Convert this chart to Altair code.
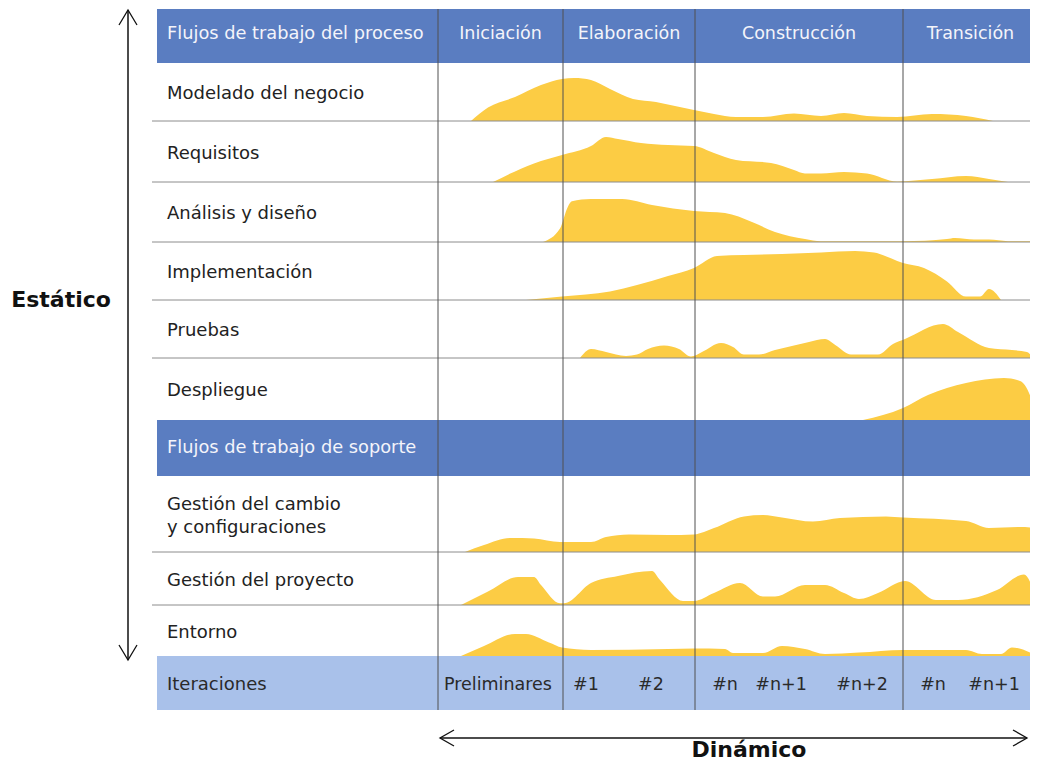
import altair as alt
import pandas as pd

# ---------------- data ----------------
# time axis: t = distance along the "Dinámico" axis
phases = ["Iniciación", "Elaboración", "Construcción", "Transición"]
phase_start = [0, 125, 257, 465]
phase_end = [125, 257, 465, 600]

iter_labels = ["Preliminares", "#1", "#2", "#n", "#n+1", "#n+2", "#n", "#n+1"]
iter_pos = [60, 148, 213, 287, 343, 424, 495, 556]

workflows = ["Modelado del negocio", "Requisitos", "Análisis y diseño",
             "Implementación", "Pruebas", "Despliegue",
             "Gestión del cambio\ny configuraciones", "Gestión del proyecto", "Entorno"]

# effort profiles (t, height) per workflow
mod_t = [33, 50, 77, 103, 124, 136, 153, 172, 195, 218, 237, 256, 276, 298, 325, 356, 383, 406, 429, 459, 494, 528, 555]
mod_h = [0, 13.5, 24, 36, 42, 43, 41, 32, 22, 19, 15, 11, 7, 4, 4, 7.5, 5, 8, 5, 4, 7, 5, 0]

req_t = [55, 96, 124, 153, 168, 180, 203, 230, 256, 276, 298, 333, 356, 367, 383, 406, 429, 459, 494, 528, 551, 570]
req_h = [0, 18.6, 27, 36, 45, 43, 39, 37, 36, 29, 22, 19, 12, 8.5, 8.5, 10, 8.5, 0.5, 3, 6, 3, 0]

ana_t = [105, 122, 130, 134, 153, 184, 214, 256, 287, 314, 337, 367, 383, 465, 509, 517, 536, 551, 570, 600]
ana_h = [0, 13.5, 35.6, 40.7, 43, 43, 37, 31, 29, 20, 10, 3, 0.8, 0.8, 3, 4, 2.4, 2.4, 0.8, 0.8]

imp_t = [88, 124, 172, 199, 230, 256, 279, 306, 344, 383, 417, 436, 465, 486, 509, 528, 542, 551, 563]
imp_h = [0, 3.4, 8.5, 15, 24, 32, 44, 45, 46, 47.5, 49, 47.5, 37, 32, 18.6, 3.4, 3.4, 11, 0]

pru_t = [142, 153, 168, 188, 199, 210, 226, 241, 253, 264, 283, 295, 306, 321, 337, 356, 371, 387, 398, 413, 440, 455, 467, 505, 520, 551, 574, 589, 595]
pru_h = [0, 9, 6, 2, 3.4, 9, 12.5, 9, 1.4, 6, 15, 11, 3.4, 3.4, 8, 12.5, 16, 19, 12.5, 3.4, 3.4, 14, 19, 34, 26, 10, 8, 6, 0]

des_t = [425, 465, 490, 528, 566, 582, 593, 599]
des_h = [0, 12, 25, 37, 42, 39, 22, 0]

cam_t = [27, 46, 73, 96, 122, 153, 168, 191, 230, 256, 276, 306, 325, 344, 375, 402, 448, 465, 528, 551, 582, 600]
cam_h = [0, 7, 14, 13.5, 10, 10, 15, 17.6, 17, 17.6, 24, 35.6, 37, 34.6, 30.5, 34, 35.6, 34.6, 31, 24, 25, 24]

pro_t = [23, 50, 80, 96, 103, 122, 126, 153, 180, 214, 222, 245, 256, 276, 302, 325, 337, 367, 387, 406, 421, 440, 467, 498, 520, 559, 586, 599]
pro_h = [0, 13.5, 28, 28, 20, 1.7, 1.7, 22, 29, 34, 25, 4, 4, 12, 22, 8.5, 8.5, 20, 20, 12, 6, 12, 24, 5, 5, 15, 30.5, 3.4]

ent_t = [23, 46, 77, 88, 111, 124, 153, 230, 256, 287, 295, 325, 344, 367, 387, 421, 465, 528, 544, 563, 574, 597]
ent_h = [0, 10, 22, 22, 13.5, 8.5, 6, 7, 7.5, 7, 3, 3, 10, 7, 2, 3.4, 6, 6, 2, 2, 8.5, 1]

profiles = [(mod_t, mod_h), (req_t, req_h), (ana_t, ana_h), (imp_t, imp_h), (pru_t, pru_h),
            (des_t, des_h), (cam_t, cam_h), (pro_t, pro_h), (ent_t, ent_h)]

# ---------------- layout ----------------
W, H = 1022, 755
X_DOM = [-430, -430 + W]
Y_DOM = [8, 8 + H]
row_top = [63, 121, 182, 242, 300, 358, 476, 552, 605]
row_bottom = [121, 182, 242, 300, 358, 420, 552, 605, 656]
LABEL_X = -271
BAR_X0 = -281
LINE_X0 = -286
T_END = 600
LINE_H = 23

HDR_BLUE = "#5A7DC1"
ITER_BLUE = "#A9C1EA"
YELLOW = "#FCCC44"
FONT = "DejaVu Sans"

xs = alt.Scale(domain=X_DOM, nice=False, zero=False)
ys = alt.Scale(domain=Y_DOM, nice=False, zero=False, reverse=True)


def X(f):
    return alt.X(f, type="quantitative", scale=xs, axis=None)


def Y(f):
    return alt.Y(f, type="quantitative", scale=ys, axis=None)


# hump areas
area_rows = []
for wf, (tt, hh), b in zip(workflows, profiles, row_bottom):
    for t, h in zip(tt, hh):
        area_rows.append({"wf": wf, "t": t, "ytop": b - h, "ybase": b})
area_df = pd.DataFrame(area_rows)

bars_df = pd.DataFrame({
    "x0": [BAR_X0] * 3, "x1": [T_END] * 3,
    "y0": [9, 420, 656], "y1": [63, 476, 710],
    "kind": ["h", "h", "i"],
})

seps_df = pd.DataFrame({"y": [121, 182, 242, 300, 358, 552, 605], "x0": LINE_X0, "x1": T_END})
vlines_df = pd.DataFrame({"t": phase_start, "y0": 9, "y1": 710})

label_y = []
for wf, a, b in zip(workflows, row_top, row_bottom):
    n = wf.count("\n")
    label_y.append((a + b) / 2 + 2 - n * LINE_H / 2)
labels_df = pd.DataFrame({"label": workflows, "t": LABEL_X, "y": label_y})
phase_df = pd.DataFrame({"label": phases, "t": [(a + b) / 2 for a, b in zip(phase_start, phase_end)], "y": 34})
iter_df = pd.DataFrame({"label": iter_labels, "t": iter_pos, "y": 685})
hdr_df = pd.DataFrame({"label": ["Flujos de trabajo del proceso", "Flujos de trabajo de soporte"],
                       "t": LABEL_X, "y": [34, 448]})
iterhdr_df = pd.DataFrame({"label": ["Iteraciones"], "t": [LABEL_X], "y": [685]})

# arrows
arrow_shafts = pd.DataFrame({"x0": [-310, 2], "x1": [-310, 589], "y0": [10, 738], "y1": [660, 738]})
heads = []
for name, pts in {
    "up": [(-319, 25), (-310, 10), (-301, 25)],
    "down": [(-319, 645), (-310, 660), (-301, 645)],
    "left": [(16, 730), (2, 738), (16, 746)],
    "right": [(575, 730), (589, 738), (575, 746)],
}.items():
    for i, (x, y) in enumerate(pts):
        heads.append({"a": name, "i": i, "t": x, "y": y})
heads_df = pd.DataFrame(heads)
axis_text = pd.DataFrame({"label": ["Estático", "Dinámico"], "t": [-377, 311], "y": [300, 750]})

# ---------------- layers ----------------
bars = alt.Chart(bars_df).mark_rect().encode(
    x=X("x0"), x2="x1", y=Y("y0"), y2="y1",
    color=alt.Color("kind:N", scale=alt.Scale(domain=["h", "i"], range=[HDR_BLUE, ITER_BLUE]), legend=None),
)

areas = alt.Chart(area_df).mark_area(color=YELLOW, interpolate="monotone", orient="vertical").encode(
    x=X("t"), y=Y("ytop"), y2="ybase", detail="wf:N"
)

seps = alt.Chart(seps_df).mark_rule(color="#8C8C8C", strokeWidth=1).encode(
    x=X("x0"), x2="x1", y=Y("y")
)
vlines = alt.Chart(vlines_df).mark_rule(color="#505050", strokeWidth=1).encode(
    x=X("t"), y=Y("y0"), y2="y1"
)

row_labels = alt.Chart(labels_df).mark_text(
    align="left", baseline="middle", font=FONT, fontSize=18, color="#222222", lineBreak="\n", lineHeight=LINE_H
).encode(x=X("t"), y=Y("y"), text="label:N")

hdr_text = alt.Chart(hdr_df).mark_text(
    align="left", baseline="middle", font=FONT, fontSize=17.8, color="#F4F4FA"
).encode(x=X("t"), y=Y("y"), text="label:N")

phase_text = alt.Chart(phase_df).mark_text(
    align="center", baseline="middle", font=FONT, fontSize=17.5, color="#F4F4FA"
).encode(x=X("t"), y=Y("y"), text="label:N")

iterhdr_text = alt.Chart(iterhdr_df).mark_text(
    align="left", baseline="middle", font=FONT, fontSize=18, color="#2A2A2A"
).encode(x=X("t"), y=Y("y"), text="label:N")

iter_text = alt.Chart(iter_df).mark_text(
    align="center", baseline="middle", font=FONT, fontSize=17.5, color="#2A2A2A"
).encode(x=X("t"), y=Y("y"), text="label:N")

shafts = alt.Chart(arrow_shafts).mark_rule(color="#111111", strokeWidth=1.5).encode(
    x=X("x0"), x2="x1", y=Y("y0"), y2="y1"
)
arrow_heads = alt.Chart(heads_df).mark_line(color="#111111", strokeWidth=1.3).encode(
    x=X("t"), y=Y("y"), detail="a:N", order="i:Q"
)
axis_labels = alt.Chart(axis_text).mark_text(
    align="center", baseline="middle", font=FONT, fontSize=22, fontWeight="bold", color="#111111"
).encode(x=X("t"), y=Y("y"), text="label:N")

chart = alt.layer(
    bars, areas, seps, vlines, row_labels, hdr_text, phase_text, iterhdr_text, iter_text,
    shafts, arrow_heads, axis_labels
).properties(
    width=W, height=H, autosize=alt.AutoSizeParams(type="none"), padding=0, background="white"
).configure_view(stroke=None)

chart.save("out.html", embed_options={"renderer": "svg", "actions": False})
